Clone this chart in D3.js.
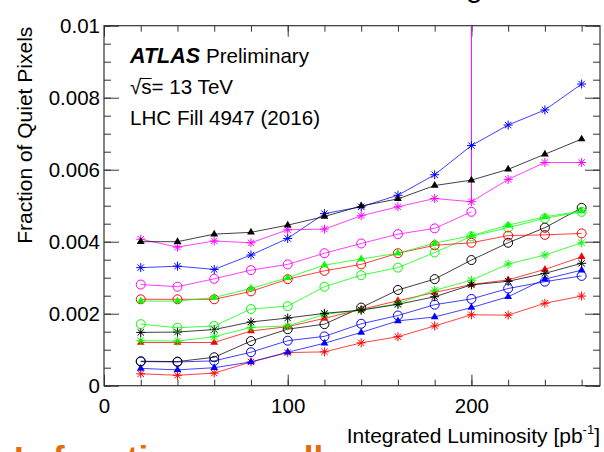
<!DOCTYPE html>
<html>
<head>
<meta charset="utf-8">
<script src="https://cdn.jsdelivr.net/npm/d3@7"></script>
<style>
  body { margin: 0; background: #fff; }
  svg { display: block; font-family: "Liberation Sans", Arial, Helvetica, sans-serif; }
</style>
</head>
<body>
<div id="chart"></div>
<script>
// integrated luminosity points [pb^-1]
const lumi = [20, 40, 60, 80, 100, 120, 140, 160, 180, 200, 220, 240, 260];

// fraction of quiet pixels, one array per graph
const blackTriangle = [0.00400, 0.00400, 0.00421, 0.00426, 0.00446, 0.00470, 0.00499, 0.00519, 0.00556, 0.00571, 0.00601, 0.00643, 0.00685];
const blackStar     = [0.00148, 0.00149, 0.00156, 0.00177, 0.00188, 0.00201, 0.00210, 0.00226, 0.00247, 0.00280, 0.00290, 0.00312, 0.00340];
const blackCircle   = [0.00068, 0.00067, 0.00079, 0.00124, 0.00157, 0.00171, 0.00217, 0.00266, 0.00296, 0.00349, 0.00397, 0.00439, 0.00494];
const magentaStar   = [0.00407, 0.00385, 0.00402, 0.00397, 0.00433, 0.00435, 0.00472, 0.00497, 0.00520, 0.00511, 0.00573, 0.00620, 0.00620];
const magentaCircle = [0.00281, 0.00275, 0.00297, 0.00321, 0.00337, 0.00368, 0.00395, 0.00421, 0.00437, 0.00483];
const blueStar      = [0.00328, 0.00332, 0.00323, 0.00363, 0.00409, 0.00478, 0.00497, 0.00529, 0.00586, 0.00667, 0.00724, 0.00766, 0.00838];
const blueCircle    = [0.00067, 0.00066, 0.00069, 0.00093, 0.00125, 0.00137, 0.00172, 0.00195, 0.00225, 0.00241, 0.00270, 0.00289, 0.00305];
const blueTriangle  = [0.00048, 0.00044, 0.00050, 0.00066, 0.00093, 0.00118, 0.00148, 0.00180, 0.00191, 0.00217, 0.00247, 0.00296, 0.00321];
const greenTriangle = [0.00235, 0.00235, 0.00245, 0.00270, 0.00300, 0.00335, 0.00352, 0.00368, 0.00396, 0.00417, 0.00446, 0.00469, 0.00485];
const greenCircle   = [0.00171, 0.00161, 0.00166, 0.00213, 0.00221, 0.00275, 0.00307, 0.00328, 0.00370, 0.00415, 0.00439, 0.00465, 0.00483];
const greenStar     = [0.00125, 0.00124, 0.00136, 0.00162, 0.00166, 0.00198, 0.00210, 0.00228, 0.00265, 0.00293, 0.00338, 0.00363, 0.00397];
const redCircle     = [0.00240, 0.00240, 0.00240, 0.00262, 0.00296, 0.00319, 0.00337, 0.00368, 0.00390, 0.00397, 0.00417, 0.00419, 0.00423];
const redTriangle   = [0.00120, 0.00120, 0.00120, 0.00152, 0.00164, 0.00187, 0.00212, 0.00236, 0.00259, 0.00281, 0.00294, 0.00323, 0.00358];
const redStar       = [0.00033, 0.00029, 0.00035, 0.00066, 0.00092, 0.00094, 0.00119, 0.00136, 0.00166, 0.00197, 0.00196, 0.00229, 0.00249];

// the magenta star point at 200 has a line running off the top of the frame
const spikeLumi = [200];
const spikeTop = [0.0105];

const xMajorTicks = [0, 100, 200];
const xTickLabels = ["0", "100", "200"];
const yMajorTicks = [0, 0.002, 0.004, 0.006, 0.008, 0.01];
const yTickLabels = ["0", "0.002", "0.004", "0.006", "0.008", "0.01"];

const series = [
  { values: redStar,       color: "#ff0000", marker: "star" },
  { values: blueTriangle,  color: "#0000ff", marker: "triangle" },
  { values: blueCircle,    color: "#0000ff", marker: "circle" },
  { values: blackCircle,   color: "#000000", marker: "circle" },
  { values: redTriangle,   color: "#ff0000", marker: "triangle" },
  { values: greenStar,     color: "#00ff00", marker: "star" },
  { values: blackStar,     color: "#000000", marker: "star" },
  { values: greenCircle,   color: "#00ff00", marker: "circle" },
  { values: redCircle,     color: "#ff0000", marker: "circle" },
  { values: greenTriangle, color: "#00ff00", marker: "triangle" },
  { values: magentaCircle, color: "#ff00ff", marker: "circle" },
  { values: blueStar,      color: "#0000ff", marker: "star" },
  { values: magentaStar,   color: "#ff00ff", marker: "star" },
  { values: blackTriangle, color: "#000000", marker: "triangle" },
]

const width = 604, height = 452
const frameLeft = 104, frameRight = 600, frameTop = 25.7, frameBottom = 385.7

const x = d3.scaleLinear().domain([0, 270]).range([frameLeft, frameRight])
const y = d3.scaleLinear().domain([0, 0.01]).range([frameBottom, frameTop])

const svg = d3.select('#chart')
  .append('svg')
  .attr('viewBox', [0, 0, width, height])
  .attr('width', width)
  .attr('height', height)

svg.append('defs').append('clipPath').attr('id', 'frame')
  .append('rect')
  .attr('x', frameLeft).attr('y', frameTop)
  .attr('width', frameRight - frameLeft).attr('height', frameBottom - frameTop)

// cut-off slide text around the plot (cropped in the reference too)
svg.append('text')
  .attr('x', 466).attr('y', -3)
  .attr('font-size', 30)
  .text('g')

svg.append('text')
  .attr('x', 14).attr('y', 471)
  .attr('font-size', 35)
  .attr('font-weight', 'bold')
  .attr('fill', '#e46c0a')
  .text('Is function over all')

// axes, ticks pointing inward like ROOT
const axisColor = '#333'

function styleAxis(g) {
  g.select('.domain').remove()
  g.selectAll('line').attr('stroke', axisColor)
  g.selectAll('text').attr('fill', '#000').attr('font-size', 20.5).attr('font-family', null)
}

const xMinor = d3.range(20, 270, 20)

svg.append('g')
  .attr('transform', `translate(0,${frameBottom})`)
  .call(d3.axisBottom(x).tickValues(xMinor).tickSize(-6).tickFormat(''))
  .call(styleAxis)
svg.append('g')
  .attr('transform', `translate(0,${frameBottom})`)
  .call(d3.axisBottom(x).tickValues(xMajorTicks).tickSize(-11).tickPadding(13)
    .tickFormat((d, i) => xTickLabels[i]))
  .call(styleAxis)
svg.append('g')
  .attr('transform', `translate(0,${frameTop})`)
  .call(d3.axisTop(x).tickValues(xMinor).tickSize(-6).tickFormat(''))
  .call(styleAxis)
svg.append('g')
  .attr('transform', `translate(0,${frameTop})`)
  .call(d3.axisTop(x).tickValues(xMajorTicks).tickSize(-11).tickFormat(''))
  .call(styleAxis)

svg.append('g')
  .attr('transform', `translate(${frameLeft},0)`)
  .call(d3.axisLeft(y).tickValues(y.ticks(20)).tickSize(-7).tickFormat(''))
  .call(styleAxis)
svg.append('g')
  .attr('transform', `translate(${frameLeft},0)`)
  .call(d3.axisLeft(y).tickValues(yMajorTicks).tickSize(-15).tickPadding(4)
    .tickFormat((d, i) => yTickLabels[i]))
  .call(styleAxis)
svg.append('g')
  .attr('transform', `translate(${frameRight},0)`)
  .call(d3.axisRight(y).tickValues(y.ticks(20)).tickSize(-7).tickFormat(''))
  .call(styleAxis)
svg.append('g')
  .attr('transform', `translate(${frameRight},0)`)
  .call(d3.axisRight(y).tickValues(yMajorTicks).tickSize(-15).tickFormat(''))
  .call(styleAxis)

svg.append('rect')
  .attr('x', frameLeft).attr('y', frameTop)
  .attr('width', frameRight - frameLeft).attr('height', frameBottom - frameTop)
  .attr('fill', 'none')
  .attr('stroke', axisColor)
  .attr('stroke-width', 1.2)

// axis titles
svg.append('text')
  .attr('transform', `translate(32,${frameTop + 1}) rotate(-90)`)
  .attr('text-anchor', 'end')
  .attr('font-size', 21)
  .text('Fraction of Quiet Pixels')

const xTitle = svg.append('text')
  .attr('x', frameRight).attr('y', 443)
  .attr('text-anchor', 'end')
  .attr('font-size', 21)
xTitle.append('tspan').text('Integrated Luminosity [pb')
xTitle.append('tspan').attr('font-size', 13).attr('dy', -9).text('-1')
xTitle.append('tspan').attr('dy', 9).text(']')

// graphs
const plot = svg.append('g').attr('clip-path', 'url(#frame)')
const line = d3.line().x(d => x(d[0])).y(d => y(d[1]))

spikeLumi.forEach((l, i) => {
  const base = magentaStar[lumi.indexOf(l)]
  plot.append('line')
    .attr('x1', x(l)).attr('x2', x(l))
    .attr('y1', y(base)).attr('y2', y(spikeTop[i]))
    .attr('stroke', '#ff00ff')
    .attr('stroke-width', 1)
})

const triangle = d3.symbol(d3.symbolTriangle, 26)
const star = 'M-4.5,0H4.5M0,-4.5V4.5M-3.2,-3.2L3.2,3.2M-3.2,3.2L3.2,-3.2'

series.forEach(s => {
  const pts = s.values.map((v, i) => [lumi[i], v])

  plot.append('path')
    .datum(pts)
    .attr('d', line)
    .attr('fill', 'none')
    .attr('stroke', s.color)
    .attr('stroke-width', 1)
    .attr('stroke-opacity', 0.75)

  const marks = plot.append('g').selectAll('g')
    .data(pts)
    .join('g')
    .attr('transform', d => `translate(${x(d[0])},${y(d[1])})`)

  if (s.marker === 'triangle') {
    marks.append('path').attr('d', triangle).attr('fill', s.color)
  } else if (s.marker === 'circle') {
    marks.append('circle').attr('r', 4.5)
      .attr('fill', 'none').attr('stroke', s.color).attr('stroke-width', 1)
  } else {
    marks.append('path').attr('d', star)
      .attr('fill', 'none').attr('stroke', s.color).attr('stroke-width', 1)
  }
})

// ATLAS label
svg.append('text')
  .attr('x', 130).attr('y', 63)
  .attr('font-size', 21.5)
  .attr('font-weight', 'bold')
  .attr('font-style', 'italic')
  .text('ATLAS')
svg.append('text')
  .attr('x', 206).attr('y', 63)
  .attr('font-size', 20.6)
  .text('Preliminary')

const energy = svg.append('text')
  .attr('x', 130).attr('y', 94)
  .attr('font-size', 20.6)
  .text('√s= 13 TeV')
const rootW = energy.node().getSubStringLength(0, 1)
const sW = energy.node().getSubStringLength(1, 1)
svg.append('line')
  .attr('x1', 130 + rootW - 1).attr('x2', 130 + rootW + sW)
  .attr('y1', 78.5).attr('y2', 78.5)
  .attr('stroke', '#000').attr('stroke-width', 1)

svg.append('text')
  .attr('x', 130).attr('y', 125)
  .attr('font-size', 20.6)
  .text('LHC Fill 4947 (2016)')
</script>
</body>
</html>
